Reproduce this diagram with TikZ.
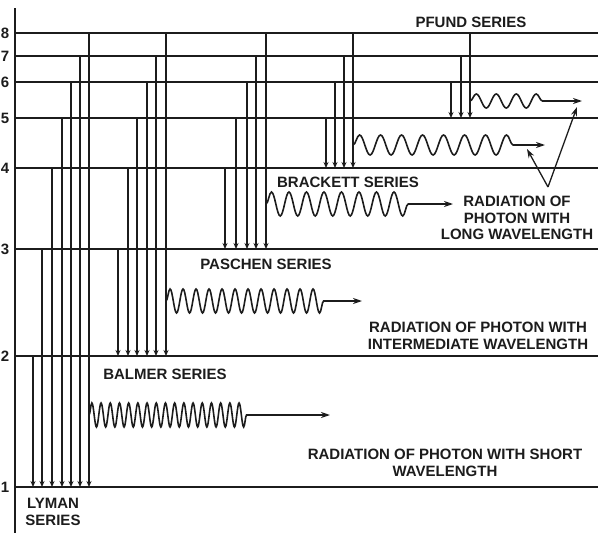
\documentclass[tikz,border=0pt]{standalone}
\usepackage{fontspec}
\setmainfont{Liberation Sans}
\usepackage{xcolor}
\usepackage{tikz}
\usetikzlibrary{positioning, arrows.meta, decorations.pathmorphing}
\definecolor{eInk}{HTML}{1C1C1C}
\tikzset{
  levelline/.style={draw=eInk, line width=1.6pt},
  trans/.style={draw=eInk, line width=1.3pt, -{Stealth[length=6pt, width=5pt]}},
  photon/.style={draw=eInk, line width=1.6pt, decorate,
    decoration={snake, post length=4pt}},
  ray/.style={draw=eInk, line width=1.3pt, -{Stealth[length=9pt, width=6pt]}},
  lbl/.style={font=\bfseries\fontsize{15}{16.5}\selectfont, text=eInk,
    align=center, inner sep=0pt},
}

\begin{document}
\begin{tikzpicture}[x=1pt, y=-1pt]
  \useasboundingbox (0,0) rectangle (598,533);
  \coordinate (rx) at (598,0);
  \draw[levelline] (15,8) -- (15,533);
  % energy levels
  \foreach \k/\y in {1/487,2/356,3/249,4/168,5/118,6/82,7/56,8/33} {
    \coordinate (n\k) at (16,\y);
    \draw[levelline] (n\k) -- (n\k -| rx);
    \node[lbl] (d\k) at (5,\y) {\k};
  }
  % series of transitions
  \foreach \x/\u in {33/2,42/3,52/4,62/5,71/6,80/7,89/8}
    \draw[trans] (\x,0 |- n\u) -- (\x,0 |- n1);
  \foreach \x/\u in {118/3,128/4,137/5,147/6,156/7,166/8}
    \draw[trans] (\x,0 |- n\u) -- (\x,0 |- n2);
  \foreach \x/\u in {225/4,236/5,247/6,256/7,266/8}
    \draw[trans] (\x,0 |- n\u) -- (\x,0 |- n3);
  \foreach \x/\u in {326/5,335/6,344/7,353/8}
    \draw[trans] (\x,0 |- n\u) -- (\x,0 |- n4);
  \foreach \x/\u in {451/6,461/7,470/8}
    \draw[trans] (\x,0 |- n\u) -- (\x,0 |- n5);

  % photons
  \foreach \i/\s/\e/\t/\y/\p/\a in {1/89/255/330/415/9.2/12,
      2/166/328/362/301/13/12,
      3/266/420/453/204/17.5/12,
      4/353/527/545/145/21/10,
      5/470/550/582/101/20/7} {
    \coordinate (w\i s) at (\s,\y);
    \coordinate (w\i e) at (\e,\y);
    \coordinate (w\i t) at (\t,\y);
    \draw[photon, decoration={segment length=\p pt, amplitude=\a pt}] (w\i s) -- (w\i e);
    \draw[ray] (w\i e) -- (w\i t);
  }

  \node[lbl] (pfund) at (471,22) {PFUND SERIES};
  \node[lbl] (brackett) at (348,182) {BRACKETT SERIES};
  \node[lbl] (paschen) at (266,264) {PASCHEN SERIES};
  \node[lbl] (balmer) at (165,374) {BALMER SERIES};
  \node[lbl] (lyman) at (53,512) {LYMAN\\SERIES};
  \node[lbl] (longw) at (517,218) {RADIATION OF\\PHOTON WITH\\LONG WAVELENGTH};
  \node[lbl] (midw) at (478,336) {RADIATION OF PHOTON WITH\\INTERMEDIATE WAVELENGTH};
  \node[lbl] (shortw) at (445,463) {RADIATION OF PHOTON WITH SHORT\\WAVELENGTH};

  \coordinate (lv) at (548,187);
  \coordinate (p4) at (527,149);
  \coordinate (p5) at (577,107);
  \draw[ray] (lv) -- (p4);
  \draw[ray] (lv) -- (p5);
\end{tikzpicture}
\end{document}
